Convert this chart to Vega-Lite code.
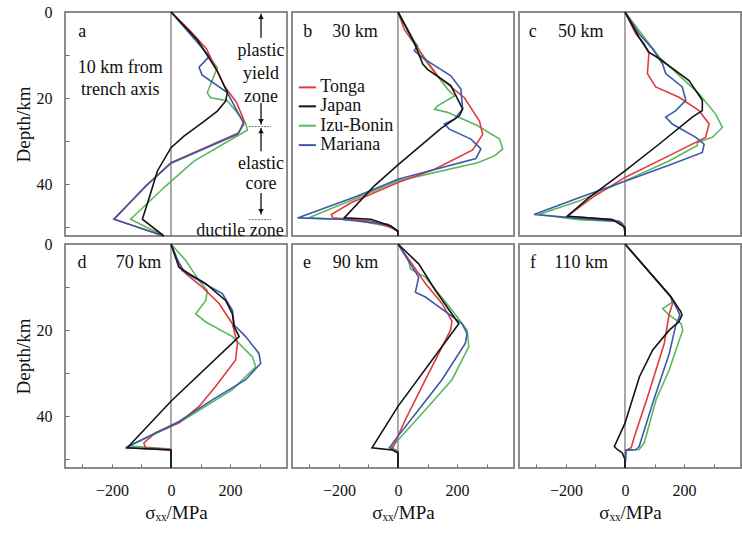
{
"$schema": "https://vega.github.io/schema/vega-lite/v6.json",
"padding": {"left": 14, "top": 4, "right": 0, "bottom": 0},
"data": {"values": [
{"t":"c","p":"a","s":"Izu-Bonin","x":0,"d":0},{"t":"c","p":"a","s":"Izu-Bonin","x":80,"d":6},{"t":"c","p":"a","s":"Izu-Bonin","x":157,"d":12.9},{"t":"c","p":"a","s":"Izu-Bonin","x":123,"d":18.7},{"t":"c","p":"a","s":"Izu-Bonin","x":134,"d":19.9},{"t":"c","p":"a","s":"Izu-Bonin","x":191,"d":20.6},{"t":"c","p":"a","s":"Izu-Bonin","x":253,"d":25.8},{"t":"c","p":"a","s":"Izu-Bonin","x":259,"d":27.4},{"t":"c","p":"a","s":"Izu-Bonin","x":78,"d":34.6},{"t":"c","p":"a","s":"Izu-Bonin","x":-18,"d":40.4},{"t":"c","p":"a","s":"Izu-Bonin","x":-137,"d":48.1},{"t":"c","p":"a","s":"Izu-Bonin","x":-24,"d":52},
{"t":"c","p":"a","s":"Tonga","x":0,"d":0},{"t":"c","p":"a","s":"Tonga","x":60,"d":4},{"t":"c","p":"a","s":"Tonga","x":120,"d":8.5},{"t":"c","p":"a","s":"Tonga","x":180,"d":17.1},{"t":"c","p":"a","s":"Tonga","x":222,"d":21},{"t":"c","p":"a","s":"Tonga","x":248,"d":25.3},{"t":"c","p":"a","s":"Tonga","x":230,"d":28},{"t":"c","p":"a","s":"Tonga","x":115,"d":31.5},{"t":"c","p":"a","s":"Tonga","x":0,"d":35},{"t":"c","p":"a","s":"Tonga","x":-86,"d":40.4},{"t":"c","p":"a","s":"Tonga","x":-193,"d":48.1},{"t":"c","p":"a","s":"Tonga","x":-24,"d":52},
{"t":"c","p":"a","s":"Mariana","x":0,"d":0},{"t":"c","p":"a","s":"Mariana","x":70,"d":5.5},{"t":"c","p":"a","s":"Mariana","x":130,"d":10.3},{"t":"c","p":"a","s":"Mariana","x":95,"d":12.8},{"t":"c","p":"a","s":"Mariana","x":105,"d":14.6},{"t":"c","p":"a","s":"Mariana","x":191,"d":18.7},{"t":"c","p":"a","s":"Mariana","x":247,"d":26},{"t":"c","p":"a","s":"Mariana","x":225,"d":28.4},{"t":"c","p":"a","s":"Mariana","x":0,"d":35.1},{"t":"c","p":"a","s":"Mariana","x":-86,"d":40.5},{"t":"c","p":"a","s":"Mariana","x":-193,"d":48.1},{"t":"c","p":"a","s":"Mariana","x":-24,"d":52},
{"t":"c","p":"a","s":"Japan","x":0,"d":0},{"t":"c","p":"a","s":"Japan","x":90,"d":6.5},{"t":"c","p":"a","s":"Japan","x":157,"d":13.7},{"t":"c","p":"a","s":"Japan","x":191,"d":18.7},{"t":"c","p":"a","s":"Japan","x":185,"d":20.7},{"t":"c","p":"a","s":"Japan","x":157,"d":23},{"t":"c","p":"a","s":"Japan","x":112,"d":25.4},{"t":"c","p":"a","s":"Japan","x":44,"d":28.8},{"t":"c","p":"a","s":"Japan","x":0,"d":31.5},{"t":"c","p":"a","s":"Japan","x":-46,"d":36.9},{"t":"c","p":"a","s":"Japan","x":-74,"d":43.2},{"t":"c","p":"a","s":"Japan","x":-97,"d":48.1},{"t":"c","p":"a","s":"Japan","x":-24,"d":52},

{"t":"c","p":"b","s":"Izu-Bonin","x":0,"d":0},{"t":"c","p":"b","s":"Izu-Bonin","x":89,"d":10.9},{"t":"c","p":"b","s":"Izu-Bonin","x":168,"d":17.9},{"t":"c","p":"b","s":"Izu-Bonin","x":191,"d":19.5},{"t":"c","p":"b","s":"Izu-Bonin","x":134,"d":21.8},{"t":"c","p":"b","s":"Izu-Bonin","x":124,"d":22.6},{"t":"c","p":"b","s":"Izu-Bonin","x":168,"d":23.3},{"t":"c","p":"b","s":"Izu-Bonin","x":270,"d":26.4},{"t":"c","p":"b","s":"Izu-Bonin","x":344,"d":29.5},{"t":"c","p":"b","s":"Izu-Bonin","x":355,"d":31.8},{"t":"c","p":"b","s":"Izu-Bonin","x":327,"d":33.4},{"t":"c","p":"b","s":"Izu-Bonin","x":270,"d":35},{"t":"c","p":"b","s":"Izu-Bonin","x":0,"d":39.2},{"t":"c","p":"b","s":"Izu-Bonin","x":-137,"d":43.1},{"t":"c","p":"b","s":"Izu-Bonin","x":-304,"d":47.8},{"t":"c","p":"b","s":"Izu-Bonin","x":-147,"d":48.3},{"t":"c","p":"b","s":"Izu-Bonin","x":-35,"d":49.7},{"t":"c","p":"b","s":"Izu-Bonin","x":0,"d":50.9},{"t":"c","p":"b","s":"Izu-Bonin","x":0,"d":52},
{"t":"c","p":"b","s":"Tonga","x":0,"d":0},{"t":"c","p":"b","s":"Tonga","x":21,"d":4},{"t":"c","p":"b","s":"Tonga","x":44,"d":6.3},{"t":"c","p":"b","s":"Tonga","x":134,"d":14.8},{"t":"c","p":"b","s":"Tonga","x":225,"d":19.9},{"t":"c","p":"b","s":"Tonga","x":276,"d":25.3},{"t":"c","p":"b","s":"Tonga","x":287,"d":28.4},{"t":"c","p":"b","s":"Tonga","x":253,"d":32},{"t":"c","p":"b","s":"Tonga","x":124,"d":36.5},{"t":"c","p":"b","s":"Tonga","x":0,"d":39.6},{"t":"c","p":"b","s":"Tonga","x":-159,"d":44.3},{"t":"c","p":"b","s":"Tonga","x":-226,"d":47},{"t":"c","p":"b","s":"Tonga","x":-221,"d":47.8},{"t":"c","p":"b","s":"Tonga","x":-92,"d":48.5},{"t":"c","p":"b","s":"Tonga","x":-24,"d":50},{"t":"c","p":"b","s":"Tonga","x":0,"d":50.9},{"t":"c","p":"b","s":"Tonga","x":0,"d":52},
{"t":"c","p":"b","s":"Mariana","x":0,"d":0},{"t":"c","p":"b","s":"Mariana","x":55,"d":7.1},{"t":"c","p":"b","s":"Mariana","x":66,"d":7.8},{"t":"c","p":"b","s":"Mariana","x":55,"d":9},{"t":"c","p":"b","s":"Mariana","x":89,"d":10.9},{"t":"c","p":"b","s":"Mariana","x":179,"d":14.8},{"t":"c","p":"b","s":"Mariana","x":213,"d":17.9},{"t":"c","p":"b","s":"Mariana","x":219,"d":22.5},{"t":"c","p":"b","s":"Mariana","x":191,"d":24.9},{"t":"c","p":"b","s":"Mariana","x":157,"d":26},{"t":"c","p":"b","s":"Mariana","x":174,"d":27.2},{"t":"c","p":"b","s":"Mariana","x":247,"d":29.5},{"t":"c","p":"b","s":"Mariana","x":281,"d":31.8},{"t":"c","p":"b","s":"Mariana","x":264,"d":34},{"t":"c","p":"b","s":"Mariana","x":0,"d":38.8},{"t":"c","p":"b","s":"Mariana","x":-137,"d":42.7},{"t":"c","p":"b","s":"Mariana","x":-340,"d":47.8},{"t":"c","p":"b","s":"Mariana","x":-193,"d":48.1},{"t":"c","p":"b","s":"Mariana","x":-35,"d":49.3},{"t":"c","p":"b","s":"Mariana","x":0,"d":50.9},{"t":"c","p":"b","s":"Mariana","x":0,"d":52},
{"t":"c","p":"b","s":"Japan","x":0,"d":0},{"t":"c","p":"b","s":"Japan","x":55,"d":7.1},{"t":"c","p":"b","s":"Japan","x":84,"d":12.1},{"t":"c","p":"b","s":"Japan","x":100,"d":13.3},{"t":"c","p":"b","s":"Japan","x":179,"d":17.1},{"t":"c","p":"b","s":"Japan","x":219,"d":22.5},{"t":"c","p":"b","s":"Japan","x":208,"d":24.1},{"t":"c","p":"b","s":"Japan","x":146,"d":27},{"t":"c","p":"b","s":"Japan","x":67,"d":31.6},{"t":"c","p":"b","s":"Japan","x":0,"d":35.5},{"t":"c","p":"b","s":"Japan","x":-81,"d":40.4},{"t":"c","p":"b","s":"Japan","x":-182,"d":47.8},{"t":"c","p":"b","s":"Japan","x":-92,"d":48.1},{"t":"c","p":"b","s":"Japan","x":-24,"d":49.7},{"t":"c","p":"b","s":"Japan","x":0,"d":50.9},{"t":"c","p":"b","s":"Japan","x":0,"d":52},

{"t":"c","p":"c","s":"Izu-Bonin","x":0,"d":0},{"t":"c","p":"c","s":"Izu-Bonin","x":115,"d":10.4},{"t":"c","p":"c","s":"Izu-Bonin","x":251,"d":19},{"t":"c","p":"c","s":"Izu-Bonin","x":307,"d":23.7},{"t":"c","p":"c","s":"Izu-Bonin","x":330,"d":26.8},{"t":"c","p":"c","s":"Izu-Bonin","x":296,"d":29.1},{"t":"c","p":"c","s":"Izu-Bonin","x":245,"d":30.3},{"t":"c","p":"c","s":"Izu-Bonin","x":245,"d":31},{"t":"c","p":"c","s":"Izu-Bonin","x":149,"d":34.6},{"t":"c","p":"c","s":"Izu-Bonin","x":0,"d":39.2},{"t":"c","p":"c","s":"Izu-Bonin","x":-156,"d":43.9},{"t":"c","p":"c","s":"Izu-Bonin","x":-292,"d":47},{"t":"c","p":"c","s":"Izu-Bonin","x":-156,"d":48.2},{"t":"c","p":"c","s":"Izu-Bonin","x":-20,"d":48.6},{"t":"c","p":"c","s":"Izu-Bonin","x":0,"d":50},{"t":"c","p":"c","s":"Izu-Bonin","x":0,"d":52},
{"t":"c","p":"c","s":"Tonga","x":0,"d":0},{"t":"c","p":"c","s":"Tonga","x":36,"d":5},{"t":"c","p":"c","s":"Tonga","x":64,"d":7.3},{"t":"c","p":"c","s":"Tonga","x":81,"d":9.6},{"t":"c","p":"c","s":"Tonga","x":76,"d":14.3},{"t":"c","p":"c","s":"Tonga","x":104,"d":17.4},{"t":"c","p":"c","s":"Tonga","x":183,"d":19.8},{"t":"c","p":"c","s":"Tonga","x":251,"d":22.9},{"t":"c","p":"c","s":"Tonga","x":285,"d":26},{"t":"c","p":"c","s":"Tonga","x":273,"d":29.1},{"t":"c","p":"c","s":"Tonga","x":160,"d":33},{"t":"c","p":"c","s":"Tonga","x":0,"d":38.4},{"t":"c","p":"c","s":"Tonga","x":-111,"d":43.1},{"t":"c","p":"c","s":"Tonga","x":-195,"d":47.4},{"t":"c","p":"c","s":"Tonga","x":-43,"d":48.2},{"t":"c","p":"c","s":"Tonga","x":-9,"d":49},{"t":"c","p":"c","s":"Tonga","x":0,"d":51},{"t":"c","p":"c","s":"Tonga","x":0,"d":52},
{"t":"c","p":"c","s":"Mariana","x":0,"d":0},{"t":"c","p":"c","s":"Mariana","x":47,"d":5},{"t":"c","p":"c","s":"Mariana","x":93,"d":8.5},{"t":"c","p":"c","s":"Mariana","x":127,"d":12},{"t":"c","p":"c","s":"Mariana","x":138,"d":14.3},{"t":"c","p":"c","s":"Mariana","x":194,"d":17.4},{"t":"c","p":"c","s":"Mariana","x":206,"d":20.5},{"t":"c","p":"c","s":"Mariana","x":172,"d":22.9},{"t":"c","p":"c","s":"Mariana","x":138,"d":24.4},{"t":"c","p":"c","s":"Mariana","x":160,"d":26},{"t":"c","p":"c","s":"Mariana","x":240,"d":29.1},{"t":"c","p":"c","s":"Mariana","x":268,"d":30.7},{"t":"c","p":"c","s":"Mariana","x":262,"d":32.6},{"t":"c","p":"c","s":"Mariana","x":160,"d":35.3},{"t":"c","p":"c","s":"Mariana","x":0,"d":39.3},{"t":"c","p":"c","s":"Mariana","x":-156,"d":43.1},{"t":"c","p":"c","s":"Mariana","x":-308,"d":47},{"t":"c","p":"c","s":"Mariana","x":-156,"d":47.9},{"t":"c","p":"c","s":"Mariana","x":-20,"d":48.6},{"t":"c","p":"c","s":"Mariana","x":0,"d":50},{"t":"c","p":"c","s":"Mariana","x":0,"d":52},
{"t":"c","p":"c","s":"Japan","x":0,"d":0},{"t":"c","p":"c","s":"Japan","x":47,"d":5.8},{"t":"c","p":"c","s":"Japan","x":81,"d":9.3},{"t":"c","p":"c","s":"Japan","x":115,"d":10.8},{"t":"c","p":"c","s":"Japan","x":217,"d":15.9},{"t":"c","p":"c","s":"Japan","x":262,"d":20.5},{"t":"c","p":"c","s":"Japan","x":262,"d":22.9},{"t":"c","p":"c","s":"Japan","x":228,"d":24.4},{"t":"c","p":"c","s":"Japan","x":115,"d":30.7},{"t":"c","p":"c","s":"Japan","x":0,"d":36.9},{"t":"c","p":"c","s":"Japan","x":-122,"d":43.1},{"t":"c","p":"c","s":"Japan","x":-195,"d":47.4},{"t":"c","p":"c","s":"Japan","x":-43,"d":48.2},{"t":"c","p":"c","s":"Japan","x":0,"d":50},{"t":"c","p":"c","s":"Japan","x":0,"d":52},

{"t":"c","p":"d","s":"Izu-Bonin","x":0,"d":0},{"t":"c","p":"d","s":"Izu-Bonin","x":50,"d":3.8},{"t":"c","p":"d","s":"Izu-Bonin","x":95,"d":8.5},{"t":"c","p":"d","s":"Izu-Bonin","x":123,"d":10.8},{"t":"c","p":"d","s":"Izu-Bonin","x":118,"d":13.1},{"t":"c","p":"d","s":"Izu-Bonin","x":84,"d":16.2},{"t":"c","p":"d","s":"Izu-Bonin","x":118,"d":18.1},{"t":"c","p":"d","s":"Izu-Bonin","x":208,"d":21.5},{"t":"c","p":"d","s":"Izu-Bonin","x":276,"d":26.2},{"t":"c","p":"d","s":"Izu-Bonin","x":287,"d":28.5},{"t":"c","p":"d","s":"Izu-Bonin","x":208,"d":33.8},{"t":"c","p":"d","s":"Izu-Bonin","x":27,"d":41.5},{"t":"c","p":"d","s":"Izu-Bonin","x":-142,"d":46.9},{"t":"c","p":"d","s":"Izu-Bonin","x":0,"d":47.6},{"t":"c","p":"d","s":"Izu-Bonin","x":0,"d":52},
{"t":"c","p":"d","s":"Tonga","x":0,"d":0},{"t":"c","p":"d","s":"Tonga","x":16,"d":3.1},{"t":"c","p":"d","s":"Tonga","x":50,"d":6.9},{"t":"c","p":"d","s":"Tonga","x":106,"d":10},{"t":"c","p":"d","s":"Tonga","x":163,"d":13.8},{"t":"c","p":"d","s":"Tonga","x":208,"d":18.5},{"t":"c","p":"d","s":"Tonga","x":225,"d":23.1},{"t":"c","p":"d","s":"Tonga","x":219,"d":26.9},{"t":"c","p":"d","s":"Tonga","x":151,"d":33.1},{"t":"c","p":"d","s":"Tonga","x":95,"d":37.7},{"t":"c","p":"d","s":"Tonga","x":27,"d":41.5},{"t":"c","p":"d","s":"Tonga","x":-52,"d":43.8},{"t":"c","p":"d","s":"Tonga","x":-92,"d":46.2},{"t":"c","p":"d","s":"Tonga","x":-86,"d":47.3},{"t":"c","p":"d","s":"Tonga","x":0,"d":47.7},{"t":"c","p":"d","s":"Tonga","x":0,"d":52},
{"t":"c","p":"d","s":"Mariana","x":0,"d":0},{"t":"c","p":"d","s":"Mariana","x":38,"d":6.2},{"t":"c","p":"d","s":"Mariana","x":95,"d":8.5},{"t":"c","p":"d","s":"Mariana","x":174,"d":11.5},{"t":"c","p":"d","s":"Mariana","x":208,"d":15.4},{"t":"c","p":"d","s":"Mariana","x":214,"d":18.8},{"t":"c","p":"d","s":"Mariana","x":253,"d":21.5},{"t":"c","p":"d","s":"Mariana","x":298,"d":25.4},{"t":"c","p":"d","s":"Mariana","x":304,"d":27.7},{"t":"c","p":"d","s":"Mariana","x":253,"d":31.5},{"t":"c","p":"d","s":"Mariana","x":140,"d":36.2},{"t":"c","p":"d","s":"Mariana","x":27,"d":41.2},{"t":"c","p":"d","s":"Mariana","x":-154,"d":47.3},{"t":"c","p":"d","s":"Mariana","x":0,"d":47.8},{"t":"c","p":"d","s":"Mariana","x":0,"d":52},
{"t":"c","p":"d","s":"Japan","x":0,"d":0},{"t":"c","p":"d","s":"Japan","x":27,"d":5.4},{"t":"c","p":"d","s":"Japan","x":61,"d":6.9},{"t":"c","p":"d","s":"Japan","x":118,"d":9.2},{"t":"c","p":"d","s":"Japan","x":185,"d":13.1},{"t":"c","p":"d","s":"Japan","x":208,"d":16.2},{"t":"c","p":"d","s":"Japan","x":214,"d":19.2},{"t":"c","p":"d","s":"Japan","x":231,"d":21.5},{"t":"c","p":"d","s":"Japan","x":0,"d":36.5},{"t":"c","p":"d","s":"Japan","x":-148,"d":47.3},{"t":"c","p":"d","s":"Japan","x":0,"d":47.8},{"t":"c","p":"d","s":"Japan","x":0,"d":52},

{"t":"c","p":"e","s":"Izu-Bonin","x":0,"d":0},{"t":"c","p":"e","s":"Izu-Bonin","x":36,"d":3.8},{"t":"c","p":"e","s":"Izu-Bonin","x":42,"d":5.8},{"t":"c","p":"e","s":"Izu-Bonin","x":93,"d":7.7},{"t":"c","p":"e","s":"Izu-Bonin","x":183,"d":15.4},{"t":"c","p":"e","s":"Izu-Bonin","x":234,"d":20},{"t":"c","p":"e","s":"Izu-Bonin","x":240,"d":23.8},{"t":"c","p":"e","s":"Izu-Bonin","x":183,"d":31.5},{"t":"c","p":"e","s":"Izu-Bonin","x":93,"d":38.5},{"t":"c","p":"e","s":"Izu-Bonin","x":2,"d":45.4},{"t":"c","p":"e","s":"Izu-Bonin","x":-23,"d":47.3},{"t":"c","p":"e","s":"Izu-Bonin","x":0,"d":48},{"t":"c","p":"e","s":"Izu-Bonin","x":0,"d":52},
{"t":"c","p":"e","s":"Tonga","x":0,"d":0},{"t":"c","p":"e","s":"Tonga","x":47,"d":4.6},{"t":"c","p":"e","s":"Tonga","x":93,"d":9.2},{"t":"c","p":"e","s":"Tonga","x":149,"d":13.8},{"t":"c","p":"e","s":"Tonga","x":183,"d":17.9},{"t":"c","p":"e","s":"Tonga","x":178,"d":20},{"t":"c","p":"e","s":"Tonga","x":93,"d":31.5},{"t":"c","p":"e","s":"Tonga","x":25,"d":40.8},{"t":"c","p":"e","s":"Tonga","x":0,"d":44.6},{"t":"c","p":"e","s":"Tonga","x":-20,"d":47.7},{"t":"c","p":"e","s":"Tonga","x":0,"d":48.2},{"t":"c","p":"e","s":"Tonga","x":0,"d":52},
{"t":"c","p":"e","s":"Mariana","x":0,"d":0},{"t":"c","p":"e","s":"Mariana","x":70,"d":7.7},{"t":"c","p":"e","s":"Mariana","x":59,"d":11.2},{"t":"c","p":"e","s":"Mariana","x":93,"d":12.3},{"t":"c","p":"e","s":"Mariana","x":217,"d":18.5},{"t":"c","p":"e","s":"Mariana","x":234,"d":20.8},{"t":"c","p":"e","s":"Mariana","x":228,"d":23.1},{"t":"c","p":"e","s":"Mariana","x":149,"d":31.5},{"t":"c","p":"e","s":"Mariana","x":70,"d":38.5},{"t":"c","p":"e","s":"Mariana","x":0,"d":44.6},{"t":"c","p":"e","s":"Mariana","x":-29,"d":47.3},{"t":"c","p":"e","s":"Mariana","x":0,"d":48.5},{"t":"c","p":"e","s":"Mariana","x":0,"d":52},
{"t":"c","p":"e","s":"Japan","x":0,"d":0},{"t":"c","p":"e","s":"Japan","x":70,"d":4.6},{"t":"c","p":"e","s":"Japan","x":127,"d":10.8},{"t":"c","p":"e","s":"Japan","x":206,"d":18.5},{"t":"c","p":"e","s":"Japan","x":0,"d":37.7},{"t":"c","p":"e","s":"Japan","x":-88,"d":47.3},{"t":"c","p":"e","s":"Japan","x":-20,"d":47.8},{"t":"c","p":"e","s":"Japan","x":0,"d":48.5},{"t":"c","p":"e","s":"Japan","x":0,"d":52},

{"t":"c","p":"f","s":"Izu-Bonin","x":0,"d":0},{"t":"c","p":"f","s":"Izu-Bonin","x":156,"d":12.3},{"t":"c","p":"f","s":"Izu-Bonin","x":161,"d":13.5},{"t":"c","p":"f","s":"Izu-Bonin","x":128,"d":15},{"t":"c","p":"f","s":"Izu-Bonin","x":145,"d":16.2},{"t":"c","p":"f","s":"Izu-Bonin","x":190,"d":18.5},{"t":"c","p":"f","s":"Izu-Bonin","x":196,"d":20},{"t":"c","p":"f","s":"Izu-Bonin","x":184,"d":22.3},{"t":"c","p":"f","s":"Izu-Bonin","x":150,"d":29.2},{"t":"c","p":"f","s":"Izu-Bonin","x":105,"d":36.2},{"t":"c","p":"f","s":"Izu-Bonin","x":65,"d":46.2},{"t":"c","p":"f","s":"Izu-Bonin","x":48,"d":47.7},{"t":"c","p":"f","s":"Izu-Bonin","x":3,"d":47.9},{"t":"c","p":"f","s":"Izu-Bonin","x":0,"d":52},
{"t":"c","p":"f","s":"Tonga","x":0,"d":0},{"t":"c","p":"f","s":"Tonga","x":156,"d":12.3},{"t":"c","p":"f","s":"Tonga","x":161,"d":13.9},{"t":"c","p":"f","s":"Tonga","x":150,"d":16.2},{"t":"c","p":"f","s":"Tonga","x":133,"d":23.1},{"t":"c","p":"f","s":"Tonga","x":77,"d":35.4},{"t":"c","p":"f","s":"Tonga","x":32,"d":44.7},{"t":"c","p":"f","s":"Tonga","x":21,"d":47.3},{"t":"c","p":"f","s":"Tonga","x":3,"d":47.9},{"t":"c","p":"f","s":"Tonga","x":0,"d":52},
{"t":"c","p":"f","s":"Mariana","x":0,"d":0},{"t":"c","p":"f","s":"Mariana","x":156,"d":12.3},{"t":"c","p":"f","s":"Mariana","x":179,"d":15.4},{"t":"c","p":"f","s":"Mariana","x":186,"d":16.5},{"t":"c","p":"f","s":"Mariana","x":172,"d":18.9},{"t":"c","p":"f","s":"Mariana","x":150,"d":25.4},{"t":"c","p":"f","s":"Mariana","x":94,"d":36.9},{"t":"c","p":"f","s":"Mariana","x":48,"d":47},{"t":"c","p":"f","s":"Mariana","x":37,"d":47.7},{"t":"c","p":"f","s":"Mariana","x":3,"d":47.9},{"t":"c","p":"f","s":"Mariana","x":0,"d":52},
{"t":"c","p":"f","s":"Japan","x":0,"d":0},{"t":"c","p":"f","s":"Japan","x":156,"d":12.3},{"t":"c","p":"f","s":"Japan","x":190,"d":15.8},{"t":"c","p":"f","s":"Japan","x":193,"d":16.5},{"t":"c","p":"f","s":"Japan","x":182,"d":18.1},{"t":"c","p":"f","s":"Japan","x":150,"d":20},{"t":"c","p":"f","s":"Japan","x":94,"d":24.6},{"t":"c","p":"f","s":"Japan","x":49,"d":30.8},{"t":"c","p":"f","s":"Japan","x":0,"d":41.6},{"t":"c","p":"f","s":"Japan","x":-36,"d":47},{"t":"c","p":"f","s":"Japan","x":-26,"d":47.7},{"t":"c","p":"f","s":"Japan","x":-9,"d":48.5},{"t":"c","p":"f","s":"Japan","x":0,"d":50},{"t":"c","p":"f","s":"Japan","x":0,"d":52},

{"t":"zero","p":"a","x":0,"d":0,"d2":52},{"t":"zero","p":"b","x":0,"d":0,"d2":52},{"t":"zero","p":"c","x":0,"d":0,"d2":52},{"t":"zero","p":"d","x":0,"d":0,"d2":52},{"t":"zero","p":"e","x":0,"d":0,"d2":52},{"t":"zero","p":"f","x":0,"d":0,"d2":52},

{"t":"lab","p":"a","x":-314,"d":4.7,"txt":"a"},
{"t":"lab","p":"b","x":-321,"d":4.7,"txt":"b"},{"t":"lab","p":"b","x":-223,"d":4.7,"txt":"30 km"},
{"t":"lab","p":"c","x":-326,"d":4.7,"txt":"c"},{"t":"lab","p":"c","x":-227,"d":4.7,"txt":"50 km"},
{"t":"lab","p":"d","x":-317,"d":4.4,"txt":"d"},{"t":"lab","p":"d","x":-187,"d":4.4,"txt":"70 km"},
{"t":"lab","p":"e","x":-322,"d":4.4,"txt":"e"},{"t":"lab","p":"e","x":-221,"d":4.4,"txt":"90 km"},
{"t":"lab","p":"f","x":-322,"d":4.4,"txt":"f"},{"t":"lab","p":"f","x":-240,"d":4.4,"txt":"110 km"},
{"t":"lab","p":"b","x":-263,"d":17.5,"txt":"Tonga"},{"t":"lab","p":"b","x":-263,"d":21.9,"txt":"Japan"},{"t":"lab","p":"b","x":-263,"d":26.4,"txt":"Izu-Bonin"},{"t":"lab","p":"b","x":-263,"d":30.9,"txt":"Mariana"},
{"t":"legl","p":"b","s":"Tonga","x":-336,"x2":-278,"d":17.5},{"t":"legl","p":"b","s":"Japan","x":-336,"x2":-278,"d":21.9},{"t":"legl","p":"b","s":"Izu-Bonin","x":-336,"x2":-278,"d":26.4},{"t":"legl","p":"b","s":"Mariana","x":-336,"x2":-278,"d":30.9},

{"t":"ct","p":"a","x":-172,"d":13,"txt":"10 km from"},{"t":"ct","p":"a","x":-172,"d":18,"txt":"trench axis"},
{"t":"ct","p":"a","x":305,"d":9,"txt":"plastic"},{"t":"ct","p":"a","x":305,"d":14.3,"txt":"yield"},{"t":"ct","p":"a","x":305,"d":19.7,"txt":"zone"},
{"t":"ct","p":"a","x":305,"d":35.4,"txt":"elastic"},{"t":"ct","p":"a","x":305,"d":40,"txt":"core"},
{"t":"ct","p":"a","x":234,"d":50.9,"txt":"ductile zone"},
{"t":"arr","p":"a","x":305,"d":0.4,"d2":6},{"t":"arr","p":"a","x":305,"d":21.1,"d2":26.1},{"t":"arr","p":"a","x":305,"d":26.9,"d2":32.3},{"t":"arr","p":"a","x":305,"d":42,"d2":47},
{"t":"hd","p":"a","x":305,"d":1.1,"dir":"up"},{"t":"hd","p":"a","x":305,"d":25.4,"dir":"down"},{"t":"hd","p":"a","x":305,"d":27.6,"dir":"up"},{"t":"hd","p":"a","x":305,"d":46.3,"dir":"down"},
{"t":"dot","p":"a","x":264,"x2":339,"d":26.6},{"t":"dot","p":"a","x":264,"x2":339,"d":48.2}
]},
"columns": 3,
"bounds": "flush",
"spacing": {"row": 8, "column": 5},
"facet": {"field": "p", "type": "nominal", "title": null, "header": {"labels": false, "title": null, "labelFontSize": 0, "labelExpr": "''", "labelPadding": 0, "titlePadding": 0}},
"spec": {
  "width": 222,
  "height": 224,
  "encoding": {
    "x": {"field": "x", "type": "quantitative",
      "scale": {"domain": [-359, 393], "nice": false, "zero": false},
      "axis": {"title": "σₓₓ/MPa", "values": [-300,-200,-100,0,100,200,300],
        "labelExpr": "datum.value % 200 === 0 ? datum.label : ''",
        "grid": false, "domain": false, "tickSize": -4, "labelPadding": 18, "titlePadding": 5,
        "labelFlush": false, "labelOverlap": false}},
    "y": {"field": "d", "type": "quantitative",
      "scale": {"domain": [0, 52], "reverse": true, "nice": false, "zero": false},
      "axis": {"title": "Depth/km", "values": [0,10,20,30,40,50],
        "labelExpr": "datum.value % 20 === 0 ? datum.label : ''",
        "grid": false, "domain": false, "tickSize": -4, "labelPadding": 17, "titlePadding": 3,
        "labelFlush": false, "labelOverlap": false}}
  },
  "layer": [
    {"transform": [{"filter": "datum.t === 'zero'"}],
     "mark": {"type": "rule", "color": "#555555", "strokeWidth": 1},
     "encoding": {"y2": {"field": "d2"}}},
    {"transform": [{"filter": "datum.t === 'c'"}],
     "mark": {"type": "line", "strokeWidth": 1.6},
     "encoding": {
       "color": {"field": "s", "type": "nominal",
         "scale": {"domain": ["Tonga", "Japan", "Izu-Bonin", "Mariana"], "range": ["#e23a40", "#141414", "#5cb85c", "#3b5ba8"]},
         "legend": null},
       "order": {"field": "d", "type": "quantitative"}}},
    {"transform": [{"filter": "datum.t === 'legl'"}],
     "mark": {"type": "rule", "strokeWidth": 2},
     "encoding": {"x2": {"field": "x2"},
       "color": {"field": "s", "type": "nominal", "legend": null}}},
    {"transform": [{"filter": "datum.t === 'lab'"}],
     "mark": {"type": "text", "align": "left", "baseline": "middle", "fontSize": 18, "color": "#111111", "font": "Liberation Serif"},
     "encoding": {"text": {"field": "txt"}}},
    {"transform": [{"filter": "datum.t === 'ct'"}],
     "mark": {"type": "text", "align": "center", "baseline": "middle", "fontSize": 18, "color": "#111111", "font": "Liberation Serif"},
     "encoding": {"text": {"field": "txt"}}},
    {"transform": [{"filter": "datum.t === 'arr'"}],
     "mark": {"type": "rule", "color": "#111111", "strokeWidth": 1.3},
     "encoding": {"y2": {"field": "d2"}}},
    {"transform": [{"filter": "datum.t === 'hd'"}],
     "mark": {"type": "point", "filled": true, "color": "#111111", "size": 30, "opacity": 1},
     "encoding": {"shape": {"field": "dir", "type": "nominal",
       "scale": {"domain": ["up", "down"], "range": ["triangle-up", "triangle-down"]}, "legend": null}}},
    {"transform": [{"filter": "datum.t === 'dot'"}],
     "mark": {"type": "rule", "color": "#777777", "strokeWidth": 1, "strokeDash": [2, 1]},
     "encoding": {"x2": {"field": "x2"}}}
  ]
},
"config": {
  "font": "Liberation Serif",
  "view": {"stroke": "#8c8c8c", "strokeWidth": 2},
  "header": {"labels": false, "title": null, "labelFontSize": 0, "labelPadding": 0},
  "headerFacet": {"labels": false, "title": null, "labelFontSize": 0, "labelPadding": 0},
  "axis": {"labelFont": "Liberation Serif", "titleFont": "Liberation Serif", "labelFontSize": 16, "titleFontSize": 19,
    "titleFontWeight": "normal", "labelColor": "#111111", "titleColor": "#111111", "tickColor": "#666666", "tickWidth": 1}
}
}
